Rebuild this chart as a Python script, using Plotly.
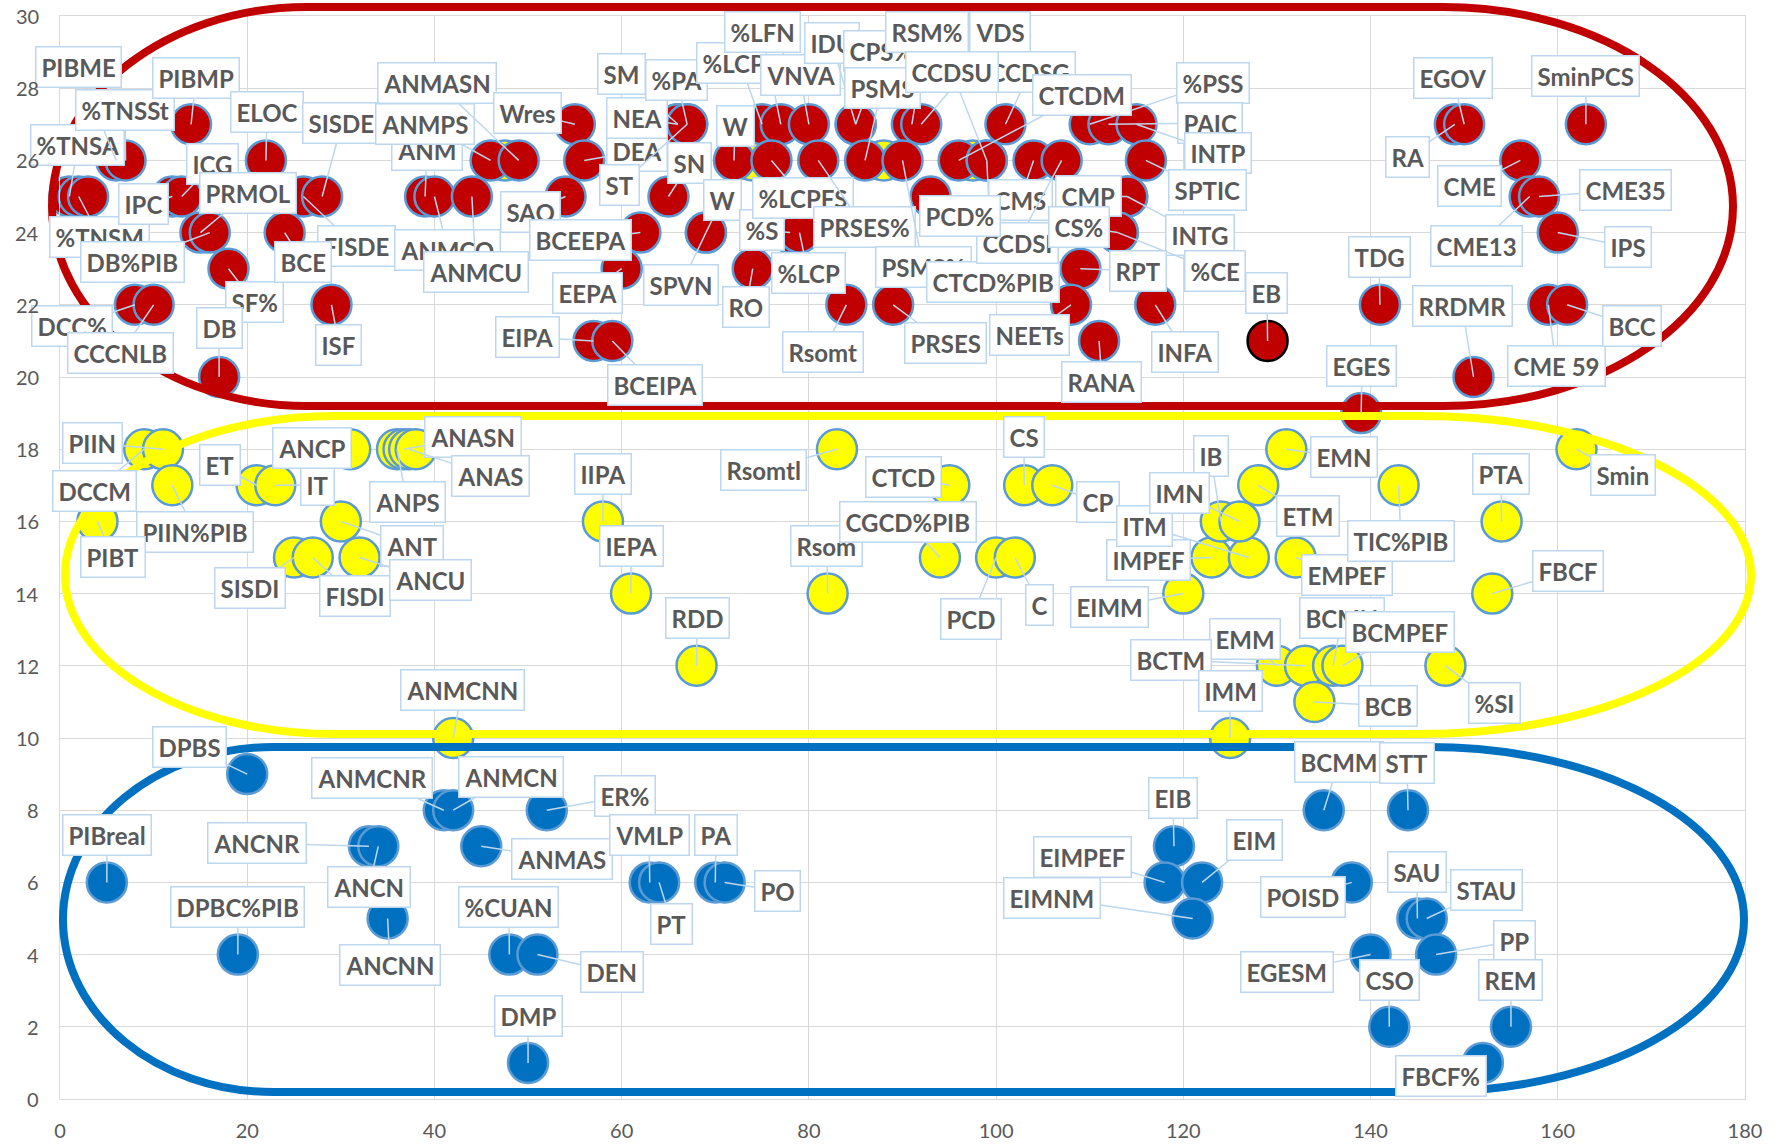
import plotly.graph_objects as go

# ---------------- data ----------------
red_names = ["%TNSA", "%TNSM", "", "PIBME", "%TNSSt", "PIBMP", "IPC", "ICG", "PRMOL", "DB%PIB",
             "SF%", "DCC%", "CCCNLB", "DB", "ELOC", "FISDE", "SISDE", "BCE", "ISF", "ANM",
             "ANMCO", "ANMCU", "ANMPS", "ANMASN", "Wres", "DEA", "SAO", "BCEEPA", "EEPA", "EIPA",
             "BCEIPA", "SM", "NEA", "%PA", "ST", "SN", "W", "SPVN", "RO", "%S",
             "%LCP", "%LCPS", "%LFN", "VNVA", "IDU", "CPS%", "RSM%", "VDS", "CCDSG", "%PSS",
             "PAIC", "INTP", "W", "%LCPFS", "PRSES%", "PSMS", "PSMS%", "CTCDM", "CCDSU", "CTCD%PIB",
             "CMS", "CCDSI", "SPTIC", "PCD%", "CMP", "INTG", "CS%", "%CE", "RPT", "Rsomt",
             "PRSES", "NEETs", "INFA", "RANA", "EB", "RA", "EGOV", "SminPCS", "CME", "CME13",
             "CME35", "IPS", "TDG", "CME 59", "BCC", "RRDMR", "EGES"]
red_x = [1, 2, 3, 6, 7, 14, 12, 13, 15, 16,
         18, 8, 10, 17, 22, 26, 28, 24, 29, 39,
         40, 44, 46, 49, 55, 56, 54, 62, 60, 57,
         59, 66, 66, 67, 67, 65, 69, 69, 74, 78,
         79, 75, 77, 80, 85, 85, 91, 92, 101, 110,
         112, 115, 72, 76, 81, 86, 90, 96, 99, 99,
         104, 107, 116, 93, 114, 114, 113, 113, 109, 84,
         89, 108, 117, 111, 129, 149, 150, 163, 156, 157,
         158, 160, 141, 159, 161, 151, 139]
red_y = [25, 25, 25, 26, 26, 27, 25, 25, 24, 24,
         23, 22, 22, 20, 26, 25, 25, 24, 22, 25,
         25, 25, 26, 26, 27, 26, 25, 24, 23, 21,
         21, 27, 27, 27, 27, 25, 24, 24, 23, 24,
         24, 27, 27, 27, 27, 27, 27, 27, 27, 27,
         27, 27, 26, 26, 26, 26, 26, 26, 26, 26,
         26, 26, 26, 25, 25, 25, 24, 24, 23, 22,
         22, 22, 22, 21, 21, 27, 27, 27, 26, 25,
         25, 24, 22, 22, 22, 20, 19]

yellow_names = ["DCCM", "PIIN", "PIIN%PIB", "PIBT", "ET", "IT", "ANCP", "ANT", "SISDI", "FISDI",
                "ANCU", "ANPS", "ANASN", "ANAS", "", "ANMCNN", "IIPA", "IEPA", "RDD", "Rsomtl",
                "Rsom", "CTCD", "CGCD%PIB", "CS", "CP", "PCD", "C", "EIMM", "IMPEF", "ITM",
                "IB", "IMN", "ETM", "EMN", "EMPEF", "EMM", "BCTM", "BCMN", "BCMPEF", "BCB",
                "IMM", "TIC%PIB", "PTA", "FBCF", "%SI", "Smin", "", "", "", ""]
yellow_x = [9, 11, 12, 4, 21, 23, 31, 30, 25, 27,
            32, 36, 36.7, 37.3, 38, 42, 58, 61, 68, 83,
            82, 95, 94, 103, 106, 100, 102, 120, 123, 127,
            124, 126, 128, 131, 132, 130, 133, 136, 137, 134,
            125, 143, 154, 153, 148, 162, 47.5, 74, 88, 97.5]
yellow_y = [18, 18, 17, 16, 17, 17, 18, 16, 15, 15,
            15, 18, 18, 18, 18, 10, 16, 14, 12, 18,
            14, 17, 15, 17, 17, 15, 15, 14, 15, 15,
            16, 16, 17, 18, 15, 12, 12, 12, 12, 11,
            10, 17, 16, 14, 12, 18, 26, 26, 26, 26]

blue_names = ["DPBS", "PIBreal", "DPBC%PIB", "ANCNR", "ANCN", "ANCNN", "ANMCNR", "ANMCN", "ANMAS", "ER%",
              "%CUAN", "DEN", "DMP", "VMLP", "PT", "PA", "PO", "EIB", "EIMPEF", "EIM",
              "EIMNM", "BCMM", "POISD", "STT", "SAU", "STAU", "EGESM", "PP", "CSO", "REM", "FBCF%"]
blue_x = [20, 5, 19, 33, 34, 35, 41, 42, 45, 52,
          48, 51, 50, 63, 64, 70, 71, 119, 118, 122,
          121, 135, 138, 144, 145, 146, 140, 147, 142, 155, 152]
blue_y = [9, 6, 4, 7, 7, 5, 8, 8, 7, 8,
          4, 4, 1, 6, 6, 6, 6, 7, 6, 6,
          5, 8, 6, 8, 5, 5, 4, 4, 2, 2, 1]

x_ticks = [0, 20, 40, 60, 80, 100, 120, 140, 160, 180]
y_ticks = list(range(0, 31, 2))

# ---------------- layout / style (label box centres, in page pixels) ----------------
red_label_pos = [(78, 145), (100, 237), None, (78, 67), (125, 110), (196, 78), (144, 204), (213, 164), (248, 193), (132, 262),
                 (254, 302), (72, 326), (121, 353), (219, 328), (267, 112), (356, 246), (342, 123), (303, 262), (339, 345), (427, 150),
                 (448, 250), (476, 272), (425, 124), (437, 83), (528, 113), (637, 151), (530, 212), (580, 240), (587, 293), (528, 337),
                 (655, 385), (622, 74), (637, 118), (677, 80), (620, 185), (690, 163), (722, 200), (681, 285), (746, 307), (762, 230),
                 (808, 273), (740, 63), (762, 32), (800, 75), (832, 43), (882, 51), (927, 32), (1000, 32), (1030, 72), (1213, 83),
                 (1210, 123), (1218, 153), (735, 126), (803, 198), (864, 227), (882, 88), (923, 267), (1082, 95), (952, 72), (993, 282),
                 (1020, 200), (1017, 243), (1207, 190), (960, 216), (1088, 196), (1200, 235), (1079, 227), (1215, 271), (1138, 271), (823, 352),
                 (945, 343), (1029, 335), (1185, 352), (1102, 382), (1267, 293), (1407, 157), (1453, 78), (1586, 76), (1470, 186), (1477, 246),
                 (1625, 190), (1628, 247), (1379, 257), (1556, 366), (1632, 326), (1462, 306), (1362, 366)]
yellow_label_pos = [(94, 491), (93, 443), (195, 532), (113, 557), (220, 465), (317, 485), (312, 448), (412, 546), (250, 588), (355, 596),
                    (430, 580), (407, 502), (473, 437), (490, 476), None, (462, 690), (603, 474), (631, 546), (697, 618), (764, 470),
                    (827, 546), (903, 477), (908, 522), (1024, 437), (1098, 502), (971, 619), (1040, 605), (1110, 607), (1148, 560), (1145, 526),
                    (1211, 456), (1179, 493), (1308, 516), (1344, 457), (1347, 575), (1245, 639), (1171, 660), (1342, 618), (1400, 632), (1388, 706),
                    (1230, 691), (1401, 541), (1501, 474), (1568, 571), (1495, 703), (1623, 475), None, None, None, None]
blue_label_pos = [(190, 747), (107, 835), (238, 907), (257, 843), (369, 887), (390, 965), (372, 778), (511, 777), (562, 859), (625, 796),
                  (509, 907), (612, 972), (528, 1016), (649, 835), (672, 924), (716, 835), (777, 891), (1173, 798), (1083, 857), (1254, 840),
                  (1052, 898), (1339, 762), (1303, 897), (1407, 763), (1417, 872), (1487, 890), (1287, 972), (1515, 941), (1389, 980), (1511, 980), (1441, 1076)]

W, H = 1778, 1145
ML, MR, MT, MB = 60, 33, 16, 46
PW, PH = W - ML - MR, H - MT - MB
X_MAX, Y_MAX = 180, 30

RED, YELLOW, BLUE = "#C00000", "#FFFF00", "#0070C0"
OUTLINE = "#5B9BD5"
BOX = "#BDD7EE"
TXT = "#595959"
FONT = "Lato"


def to_px(x, y):
    return ML + x / X_MAX * PW, MT + (1 - y / Y_MAX) * PH


def paper(px, py):
    return (px - ML) / PW, (MT + PH - py) / PH


fig = go.Figure()


def add_series(xs, ys, names, color, outline_colors=None):
    fig.add_trace(go.Scatter(
        x=xs, y=ys, mode="markers", text=names, hoverinfo="text",
        marker=dict(size=40, color=color,
                    line=dict(width=2.5, color=outline_colors if outline_colors else OUTLINE)),
        cliponaxis=False, showlegend=False))


add_series(yellow_x, yellow_y, yellow_names, YELLOW)
add_series(blue_x, blue_y, blue_names, BLUE)
red_outline = ["#000000" if n == "EB" else OUTLINE for n in red_names]
add_series(red_x, red_y, red_names, RED, red_outline)

annotations = []


def add_labels(names, xs, ys, pos):
    for n, x, y, p in zip(names, xs, ys, pos):
        if not n or p is None:
            continue
        px, py = to_px(x, y)
        annotations.append(dict(
            x=x, y=y, xref="x", yref="y", text=n, showarrow=True,
            ax=p[0] - px, ay=p[1] - py, arrowhead=0, arrowwidth=1.5, arrowcolor=BOX,
            standoff=0, bgcolor="white", bordercolor=BOX, borderwidth=1.5, borderpad=5,
            font=dict(family=FONT, size=24, color=TXT, weight="bold")))


add_labels(red_names, red_x, red_y, red_label_pos)
add_labels(yellow_names, yellow_x, yellow_y, yellow_label_pos)
add_labels(blue_names, blue_x, blue_y, blue_label_pos)

# y tick labels drawn last so they sit above the callout boxes (as in the reference)
for v in y_ticks:
    annotations.append(dict(x=0, xref="paper", y=v, yref="y", text=str(v), showarrow=False,
                            xanchor="right", yanchor="middle", xshift=-19,
                            font=dict(family=FONT, size=20, color=TXT)))


def stadium(L, R, T, B, rxl, rxr, color):
    k = 0.5523
    cy = (T + B) / 2
    ry = (B - T) / 2
    pts = [
        ("M", [(L + rxl, T)]),
        ("L", [(R - rxr, T)]),
        ("C", [(R - rxr + k * rxr, T), (R, cy - k * ry), (R, cy)]),
        ("C", [(R, cy + k * ry), (R - rxr + k * rxr, B), (R - rxr, B)]),
        ("L", [(L + rxl, B)]),
        ("C", [(L + rxl - k * rxl, B), (L, cy + k * ry), (L, cy)]),
        ("C", [(L, cy - k * ry), (L + rxl - k * rxl, T), (L + rxl, T)]),
    ]
    d = ""
    for cmd, ps in pts:
        d += cmd + " ".join("%.5f,%.5f" % paper(px, py) for px, py in ps) + " "
    d += "Z"
    return dict(type="path", path=d, xref="paper", yref="paper",
                line=dict(color=color, width=8), fillcolor="rgba(0,0,0,0)", layer="above")


shapes = [
    stadium(52, 1733, 7, 406, 255, 290, RED),
    stadium(65, 1751, 416, 734, 270, 330, YELLOW),
    stadium(63, 1744, 747, 1092, 210, 315, BLUE),
]

axis_common = dict(showgrid=True, gridcolor="#D9D9D9", gridwidth=1.3, zeroline=False,
                   showline=True, linecolor="#D9D9D9", linewidth=1.3, mirror=True,
                   tickfont=dict(family=FONT, size=20, color=TXT), automargin=False, fixedrange=True)

fig.update_layout(
    width=W, height=H,
    margin=dict(l=ML, r=MR, t=MT, b=MB, pad=0),
    paper_bgcolor="white", plot_bgcolor="white",
    xaxis=dict(range=[0, X_MAX], tickvals=x_ticks, ticklabelstandoff=14, **axis_common),
    yaxis=dict(range=[0, Y_MAX], tickvals=y_ticks, showticklabels=False, **axis_common),
    annotations=annotations, shapes=shapes, showlegend=False,
)

fig.write_html("out.html", config={"displayModeBar": False},
               post_script="document.body.style.margin='0';document.body.style.overflow='hidden';")
